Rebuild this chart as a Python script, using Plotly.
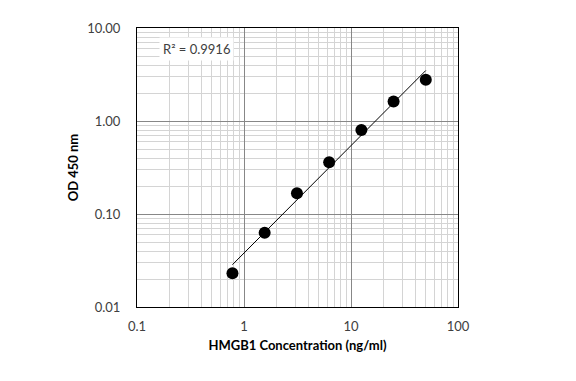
import numpy as np
import plotly.graph_objects as go

# Data
concentration = [0.78, 1.56, 3.125, 6.25, 12.5, 25, 50]
od450 = [0.023, 0.063, 0.167, 0.36, 0.80, 1.62, 2.77]
x_tickvals = [0.1, 1, 10, 100]
x_ticktext = ["0.1", "1", "10", "100"]
y_tickvals = [0.01, 0.1, 1, 10]
y_ticktext = ["0.01", "0.10", "1.00", "10.00"]
r2_label = "R² = 0.9916"

# Power trendline (fit in log-log space)
lx = np.log10(concentration)
ly = np.log10(od450)
b, a = np.polyfit(lx, ly, 1)
fit_x = [concentration[0], concentration[-1]]
fit_y = [10 ** (a + b * np.log10(v)) for v in fit_x]

FONT = "Lato, Calibri, Carlito, sans-serif"

fig = go.Figure()
fig.add_trace(go.Scatter(x=fit_x, y=fit_y, mode="lines",
                         line=dict(color="black", width=1), showlegend=False,
                         hoverinfo="skip"))
fig.add_trace(go.Scatter(x=concentration, y=od450, mode="markers",
                         marker=dict(color="black", size=12), showlegend=False))

fig.update_layout(
    width=568, height=373,
    margin=dict(l=129, r=118, t=15, b=74),
    paper_bgcolor="white", plot_bgcolor="white",
    font=dict(family=FONT, size=13, color="#404040"),
    xaxis=dict(type="log", range=[-1, 2], tickvals=x_tickvals, ticktext=x_ticktext,
               showgrid=True, gridcolor="#878787", gridwidth=1,
               minor=dict(dtick="D1", showgrid=True, gridcolor="#d4d4d4", gridwidth=1, ticks=""),
               showline=True, linecolor="#000000", linewidth=1, mirror=True,
               ticks="", zeroline=False, ticklabelstandoff=7,
               tickfont=dict(family=FONT, size=13, color="#404040"),
               title=dict(text="<b>HMGB1 Concentration (ng/ml)</b>", standoff=8,
                          font=dict(family=FONT, size=13, color="#000000"))),
    yaxis=dict(type="log", range=[-2, 1], tickvals=y_tickvals, ticktext=y_ticktext,
               showgrid=True, gridcolor="#878787", gridwidth=1,
               minor=dict(dtick="D1", showgrid=True, gridcolor="#d4d4d4", gridwidth=1, ticks=""),
               showline=True, linecolor="#000000", linewidth=1, mirror=True,
               ticks="", zeroline=False, ticklabelstandoff=13,
               tickfont=dict(family=FONT, size=13, color="#404040"),
               title=dict(text="<b>OD 450 nm</b>", standoff=5,
                          font=dict(family=FONT, size=13, color="#000000"))),
    annotations=[dict(text=r2_label, xref="paper", yref="paper", x=0.184, y=0.923,
                      xanchor="center", yanchor="middle",
                      showarrow=False, bgcolor="white", borderpad=3,
                      font=dict(family=FONT, size=13, color="#404040"))],
)

fig.write_html("out.html")
